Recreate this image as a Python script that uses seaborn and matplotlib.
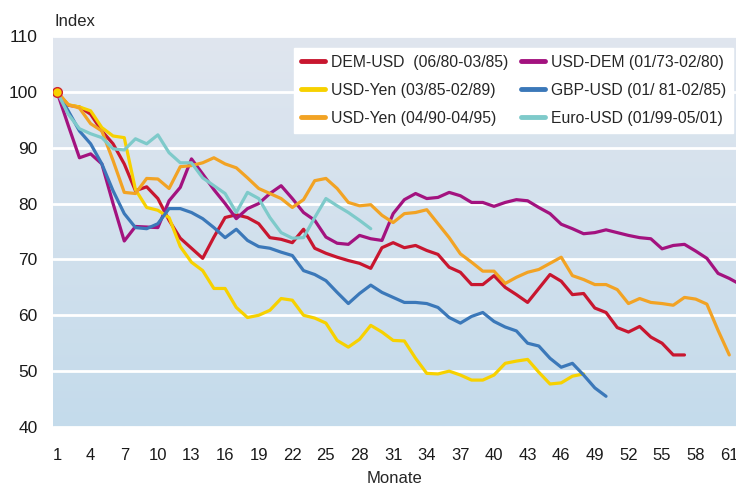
import numpy as np
import matplotlib
matplotlib.use('Agg')
from matplotlib import pyplot as plt
from matplotlib.colors import LinearSegmentedColormap
import seaborn as sns

sns.set_style("white")
plt.rcParams['font.family'] = ['Liberation Sans', 'DejaVu Sans']

# Index values per month (start = 100)
dem_usd = [100, 97.6, 97.3, 96, 93, 90.7, 87.1, 82.3, 83, 80.9,
           77, 73.8, 72, 70.2, 74, 77.5, 78, 77.5, 76.4, 73.9,
           73.6, 73, 75.4, 72, 71.1, 70.4, 69.8, 69.3, 68.4, 72.1,
           73, 72.1, 72.5, 71.6, 70.9, 68.6, 67.7, 65.5, 65.5, 67.1,
           65, 63.7, 62.3, 64.8, 67.3, 66.1, 63.7, 63.9, 61.3, 60.5,
           57.8, 57, 58, 56.1, 55, 52.9, 52.9]
usd_dem = [100, 94, 88.2, 88.9, 87.1, 80, 73.3, 75.9, 75.8, 75.7,
           80.5, 82.9, 88, 85.3, 82.5, 80, 77.3, 79.1, 80, 81.8,
           83.2, 80.9, 78.4, 77, 74, 72.9, 72.7, 74.3, 73.7, 73.4,
           78.2, 80.7, 81.8, 80.9, 81.1, 82, 81.4, 80.2, 80.2, 79.5,
           80.2, 80.7, 80.5, 79.3, 78.2, 76.3, 75.5, 74.6, 74.8, 75.3,
           74.8, 74.3, 73.9, 73.7, 71.9, 72.5, 72.7, 71.5, 70.2, 67.5,
           66.6, 65.5]
usd_yen_85 = [100, 97.7, 97.3, 96.6, 93.6, 92.1, 91.8, 82.5, 79.3, 78.8,
              77.5, 72.3, 69.5, 68, 64.8, 64.8, 61.4, 59.6, 60, 60.9,
              63, 62.7, 60, 59.5, 58.6, 55.5, 54.3, 55.7, 58.2, 57,
              55.5, 55.4, 52.3, 49.6, 49.5, 50, 49.3, 48.4, 48.4, 49.3,
              51.4, 51.8, 52.1, 49.8, 47.7, 47.9, 49.1, 49.5]
gbp_usd = [100, 96.6, 93, 90.7, 87.1, 82.3, 78.2, 75.7, 75.5, 76.4,
           79.1, 79.1, 78.4, 77.3, 75.7, 73.9, 75.4, 73.4, 72.3, 72,
           71.3, 70.7, 68, 67.3, 66.2, 64.1, 62.1, 63.9, 65.4, 64.1,
           63.2, 62.3, 62.3, 62.1, 61.4, 59.6, 58.6, 59.8, 60.5, 58.9,
           57.9, 57.2, 55, 54.5, 52.3, 50.7, 51.4, 49.3, 47, 45.5]
usd_yen_90 = [100, 97.7, 97.1, 94.3, 93, 87.7, 82, 81.8, 84.5, 84.4,
              82.7, 86.6, 86.8, 87.3, 88.2, 87.1, 86.4, 84.6, 82.7, 81.8,
              80.9, 79.3, 80.7, 84.1, 84.5, 82.7, 80.2, 79.6, 79.8, 77.9,
              76.6, 78.2, 78.4, 78.9, 76.4, 73.9, 71, 69.5, 67.9, 67.9,
              65.7, 66.8, 67.7, 68.2, 69.3, 70.4, 67.1, 66.4, 65.5, 65.5,
              64.6, 62.1, 63, 62.3, 62.1, 61.8, 63.2, 62.9, 62, 57.3,
              52.9]
euro_usd = [100, 96, 93.4, 92.5, 91.8, 89.8, 89.6, 91.6, 90.7, 92.3,
            89.1, 87.3, 87.3, 84.6, 83.2, 81.8, 78.4, 82, 80.9, 77.5,
            74.8, 73.8, 73.9, 77.5, 80.9, 79.6, 78.4, 77, 75.5]

series = [
    ('DEM-USD  (06/80-03/85)', dem_usd, '#c8162f'),
    ('USD-DEM (01/73-02/80)', usd_dem, '#a3127f'),
    ('USD-Yen (03/85-02/89)', usd_yen_85, '#f7d100'),
    ('GBP-USD (01/ 81-02/85)', gbp_usd, '#3b78b9'),
    ('USD-Yen (04/90-04/95)', usd_yen_90, '#f2a324'),
    ('Euro-USD (01/99-05/01)', euro_usd, '#7ecaca'),
]

fig = plt.figure(figsize=(7.36, 4.83), dpi=100)
ax = fig.add_axes([53 / 736, 1 - 427 / 483, 1 - 53 / 736, (427 - 36) / 483])

xmin, xmax = 0.64, 61.6
ymin, ymax = 40, 110

# background gradient
bg = LinearSegmentedColormap.from_list('bg', ['#c4dbeb', '#e0e6ef'])
grad = np.linspace(0, 1, 256).reshape(-1, 1)
ax.imshow(grad, cmap=bg, origin='lower', aspect='auto',
          extent=[xmin, xmax, ymin, ymax], zorder=0)

for label, vals, color in series:
    months = np.arange(1, len(vals) + 1)
    sns.lineplot(x=months, y=vals, color=color, linewidth=2.3,
                 label=label, ax=ax, zorder=3)

ax.plot([1], [100], marker='o', markersize=7, markerfacecolor='#f7d100',
        markeredgecolor='#d0202f', markeredgewidth=1, zorder=5)

ax.set_xlim(xmin, xmax)
ax.set_ylim(ymin, ymax)
ax.set_yticks(np.arange(40, 111, 10))
ax.set_xticks(np.arange(1, 62, 3))
ax.set_xticks(np.arange(1, 62, 1), minor=True)
ax.grid(axis='y', color='white', linewidth=2, zorder=1)
ax.set_axisbelow(True)
for s in ax.spines.values():
    s.set_visible(False)

ax.tick_params(axis='y', length=0, pad=11, labelsize=12.5, labelcolor='#1a1a1a')
ax.tick_params(axis='x', which='both', direction='in', length=3, width=1.5,
               color='white', pad=15, labelsize=12, labelcolor='#1a1a1a')
ax.set_xlabel('Monate', fontsize=12, labelpad=6)
ax.set_ylabel('')
fig.text(55 / 736, 1 - 22 / 483, 'Index', fontsize=12, ha='left', va='center')

# legend: fill column-wise like the original
handles, labels = ax.get_legend_handles_labels()
order = [0, 2, 4, 1, 3, 5]
leg = ax.legend([handles[i] for i in order], [labels[i] for i in order],
                ncol=2, loc='upper right', bbox_to_anchor=(0.996, 0.97),
                borderaxespad=0, frameon=True, fancybox=False, framealpha=1,
                edgecolor='white', facecolor='white', fontsize=11.3,
                handlelength=1.55, handletextpad=0.38, columnspacing=0.8,
                labelspacing=0.82, borderpad=0.45)
for line in leg.get_lines():
    line.set_linewidth(3.5)

fig.savefig('out.png', dpi=100)
